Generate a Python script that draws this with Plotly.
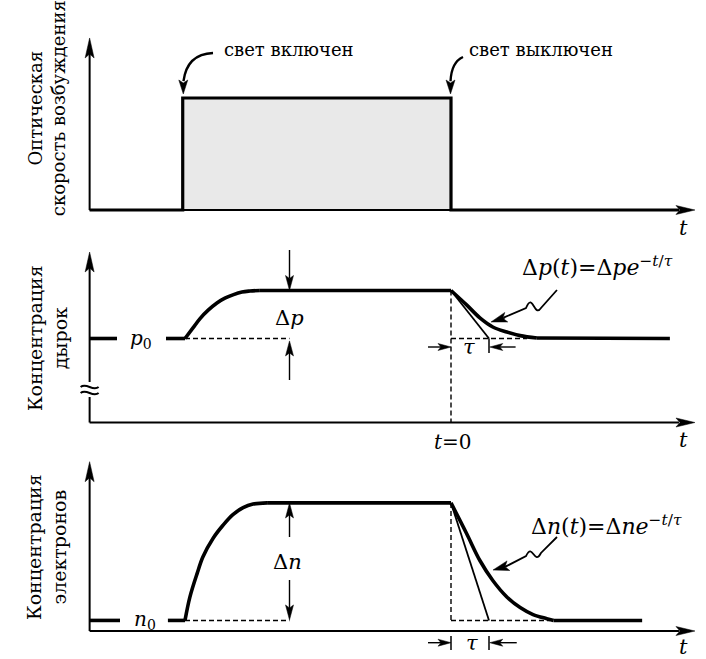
import math
import plotly.graph_objects as go

# ---------------- data (time in units of tau, t = 0 : light switched off) ----------------
T_AXIS_START = -9.51          # time at the vertical axes
T_AXIS_END = 6.42             # arrow tip of the time axes
T_LIGHT_ON, T_LIGHT_OFF = -7.06, 0.0
G_LEVELS = [0.0, 1.0]         # optical generation rate: off / on

# holes (axis broken, arbitrary units)
P0, P_SS = 1.75, 2.75
HOLE_RISE_T = [-7.0, -6.79, -6.61, -6.39, -6.16, -5.95, -5.74, -5.5, -5.29, -5.03]
HOLE_RISE_P = [1.75, 1.97, 2.16, 2.34, 2.49, 2.59, 2.66, 2.72, 2.74, 2.75]
HOLE_DECAY_T = [0.0, 0.41, 0.76, 1.1, 1.47, 1.82, 2.26]
HOLE_DECAY_P = [2.75, 2.45, 2.18, 1.99, 1.885, 1.81, 1.76]
HOLE_END_T = 5.76

# electrons
N0, N_SS = 0.09, 1.09
ELEC_RISE_T = [-7.0, -6.87, -6.68, -6.53, -6.26, -6.0, -5.74, -5.47, -5.21, -4.84]
ELEC_RISE_N = [0.09, 0.29, 0.49, 0.63, 0.79, 0.90, 0.99, 1.05, 1.08, 1.09]
ELEC_DECAY_T = [0.0, 0.41, 0.76, 1.1, 1.47, 1.82, 2.16, 2.52, 2.7]
ELEC_DECAY_N = [1.09, 0.83, 0.60, 0.43, 0.29, 0.20, 0.14, 0.105, 0.09]
ELEC_END_T = 5.03

TAU = 1.0                     # tangent intercept
T_DELTA_MARK = -4.25          # where Δp / Δn are indicated

# ---------------- layout geometry ----------------
W, H = 706, 659
PX0, PPX = 451.0, 38.0        # pixel of t=0, pixels per tau
X_RANGE = [(0 - PX0) / PPX, (W - PX0) / PPX]
PANELS = [
    dict(top=0, bottom=235, zero=210.0, ppu=112.0),
    dict(top=235, bottom=447, zero=422.5, ppu=48.0),
    dict(top=447, bottom=H, zero=631.0, ppu=117.5),
]
YREF = ["y", "y2", "y3"]
FONT = "DejaVu Serif"
BLACK = "black"

shapes, annotations = [], []


def line(k, x0, y0, x1, y1, width=2.0, dash=None):
    d = dict(color=BLACK, width=width)
    if dash:
        d["dash"] = dash
    shapes.append(dict(type="line", xref="x", yref=YREF[k], x0=x0, y0=y0, x1=x1, y1=y1,
                       line=d, layer="above"))


def head(k, tx, ty, ux, uy, L=12.0, Wd=3.5, notch=3.0):
    n = math.hypot(ux, uy)
    ux, uy = ux / n, uy / n
    qx, qy = -uy, ux
    ppu = PANELS[k]["ppu"]

    def pt(a, b):
        return tx + (a * ux + b * qx) / PPX, ty + (a * uy + b * qy) / ppu

    pts = [pt(0, 0), pt(-L, Wd), pt(-L + notch, 0), pt(-L, -Wd)]
    path = "M" + " L".join(f"{x:.5f},{y:.5f}" for x, y in pts) + " Z"
    shapes.append(dict(type="path", path=path, xref="x", yref=YREF[k], fillcolor=BLACK,
                       line=dict(color=BLACK, width=0.5), layer="above"))


def arrow(k, x0, y0, x1, y1, width=1.4, L=13.0, Wd=3.8, notch=3.0):
    ppu = PANELS[k]["ppu"]
    dx, dy = (x1 - x0) * PPX, (y1 - y0) * ppu
    n = math.hypot(dx, dy)
    sx = x1 - (L - notch) * dx / n / PPX
    sy = y1 - (L - notch) * dy / n / ppu
    line(k, x0, y0, sx, sy, width)
    head(k, x1, y1, dx, dy, L, Wd, notch)


def path(k, d, width=2.0):
    shapes.append(dict(type="path", path=d, xref="x", yref=YREF[k],
                       line=dict(color=BLACK, width=width), layer="above"))


def text(k, x, y, s, size=18, angle=0, xanchor="center"):
    annotations.append(dict(xref="x", yref=YREF[k], x=x, y=y, text=s, showarrow=False,
                            textangle=angle, xanchor=xanchor, yanchor="middle",
                            font=dict(family=FONT, size=size, color=BLACK)))


fig = go.Figure()

# ---------------- panel 1 : generation pulse ----------------
fig.add_trace(go.Scatter(x=[T_LIGHT_ON, T_LIGHT_ON, T_LIGHT_OFF, T_LIGHT_OFF],
                         y=[G_LEVELS[0], G_LEVELS[1], G_LEVELS[1], G_LEVELS[0]],
                         fill="toself", fillcolor="#e9e9e9", line=dict(width=0),
                         mode="lines", yaxis="y", hoverinfo="skip"))
fig.add_trace(go.Scatter(x=[T_AXIS_START, T_LIGHT_ON, T_LIGHT_ON, T_LIGHT_OFF, T_LIGHT_OFF, 6.0],
                         y=[G_LEVELS[0], G_LEVELS[0], G_LEVELS[1], G_LEVELS[1], G_LEVELS[0], G_LEVELS[0]],
                         mode="lines", line=dict(color=BLACK, width=3.2), yaxis="y"))

# ---------------- panel 2 : holes ----------------
thick = dict(color=BLACK, width=3.6)
for xs, ys, shp in [
    ([T_AXIS_START, -8.79], [P0, P0], "linear"),
    ([-7.5, HOLE_RISE_T[0]], [P0, P0], "linear"),
    (HOLE_RISE_T, HOLE_RISE_P, "spline"),
    ([HOLE_RISE_T[-1], 0.0], [P_SS, P_SS], "linear"),
    (HOLE_DECAY_T, HOLE_DECAY_P, "spline"),
    ([HOLE_DECAY_T[-1], HOLE_END_T], [HOLE_DECAY_P[-1], P0], "linear"),
]:
    fig.add_trace(go.Scatter(x=xs, y=ys, mode="lines", line=dict(thick, shape=shp), yaxis="y2"))
fig.add_trace(go.Scatter(x=[0.0, TAU], y=[P_SS, P0], mode="lines",
                         line=dict(color=BLACK, width=1.8), yaxis="y2"))

# ---------------- panel 3 : electrons ----------------
for xs, ys, shp in [
    ([T_AXIS_START, -8.71], [N0, N0], "linear"),
    ([-7.45, ELEC_RISE_T[0]], [N0, N0], "linear"),
    (ELEC_RISE_T, ELEC_RISE_N, "spline"),
    ([ELEC_RISE_T[-1], 0.0], [N_SS, N_SS], "linear"),
    (ELEC_DECAY_T, ELEC_DECAY_N, "spline"),
    ([ELEC_DECAY_T[-1], ELEC_END_T], [N0, N0], "linear"),
]:
    fig.add_trace(go.Scatter(x=xs, y=ys, mode="lines", line=dict(thick, shape=shp), yaxis="y3"))
fig.add_trace(go.Scatter(x=[0.0, TAU], y=[N_SS, N0], mode="lines",
                         line=dict(color=BLACK, width=1.8), yaxis="y3"))

# ---------------- axes (drawn as arrows) ----------------
AX_W = 2.0
tips = [1.536, 3.552, 1.441]
for k in range(3):
    ppu = PANELS[k]["ppu"]
    line(k, T_AXIS_START, 0, T_AXIS_END - 16 / PPX, 0, AX_W)
    head(k, T_AXIS_END, 0, 1, 0, L=19, Wd=4.5, notch=4)
    if k == 1:
        line(k, T_AXIS_START, 0, T_AXIS_START, 0.531, AX_W)
        line(k, T_AXIS_START, 0.844, T_AXIS_START, tips[k] - 16 / ppu, AX_W)
    else:
        line(k, T_AXIS_START, 0, T_AXIS_START, tips[k] - 16 / ppu, AX_W)
    head(k, T_AXIS_START, tips[k], 0, 1, L=20, Wd=4.5, notch=4)

# axis break marks (panel 2)
for yb in (0.74, 0.615):
    a = 5.0 / PANELS[1]["ppu"]
    x0, x1 = T_AXIS_START - 9 / PPX, T_AXIS_START + 9 / PPX
    path(1, f"M{x0},{yb} C{x0 + 6 / PPX},{yb + a} {x1 - 6 / PPX},{yb - a} {x1},{yb}", 2.0)

# time labels
for k, yl in [(0, -0.161), (1, -0.365), (2, -0.135)]:
    text(k, 6.13, yl, "<i>t</i>", 21)

# ---------------- panel 1 annotations ----------------
text(0, -4.26, 1.43, "свет включен", 18)
text(0, 2.38, 1.43, "свет выключен", 18)
path(0, "M-6.263,1.402 Q-6.947,1.393 -7.04,1.15", 2.4)
head(0, -7.045, 1.036, 0, -1, L=14, Wd=4.5, notch=3)
path(0, "M0.316,1.366 Q0.013,1.321 -0.013,1.15", 2.4)
head(0, -0.013, 1.036, 0, -1, L=14, Wd=4.5, notch=3)
text(0, -10.63, 0.91, "Оптическая<br>скорость возбуждения", 18, angle=-90)

# ---------------- panel 2 annotations ----------------
text(1, -10.63, 1.76, "Концентрация<br>дырок", 19, angle=-90)
text(1, -8.16, 1.75, "<i>p</i><sub>0</sub>", 20)
DASH = "5px,3px"
line(1, HOLE_RISE_T[0], P0, T_DELTA_MARK, P0, 1.4, DASH)
line(1, 0.0, P_SS, 0.0, 0.0, 1.4, DASH)
line(1, 0.0, P0, 2.0, P0, 1.4, DASH)
arrow(1, T_DELTA_MARK, 3.594, T_DELTA_MARK, P_SS, L=15, Wd=4)
arrow(1, T_DELTA_MARK, 0.885, T_DELTA_MARK, 1.70, L=15, Wd=4)
text(1, T_DELTA_MARK, 2.18, "Δ<i>p</i>", 21)
text(1, 0.05, -0.406, "<i>t</i>=0", 20)
line(1, TAU, P0, TAU, 1.45, 1.5)
arrow(1, -0.605, 1.573, 0.0, 1.573, L=13, Wd=3.5)
arrow(1, 1.70, 1.573, 1.02, 1.573, L=13, Wd=3.5)
text(1, 0.47, 1.573, "<i>τ</i>", 21)
text(1, 3.86, 3.26, "Δ<i>p</i>(<i>t</i>)=Δ<i>pe</i><sup>−<i>t</i>/<i>τ</i></sup>", 22)
path(1, "M2.789,2.76 L2.368,2.385 C2.184,2.17 2.158,2.74 1.974,2.385 L1.40,2.19", 1.8)
arrow(1, 1.42, 2.185, 1.053, 2.094, width=1.8, L=16, Wd=5, notch=3.5)

# ---------------- panel 3 annotations ----------------
text(2, -10.63, 0.715, "Концентрация<br>электронов", 19, angle=-90)
text(2, -8.05, N0, "<i>n</i><sub>0</sub>", 20)
line(2, ELEC_RISE_T[0], N0, T_DELTA_MARK, N0, 1.4, DASH)
line(2, 0.0, N_SS, 0.0, N0, 1.4, DASH)
line(2, 0.0, N0, 2.6, N0, 1.4, DASH)
arrow(2, T_DELTA_MARK, 0.80, T_DELTA_MARK, N_SS, L=15, Wd=4)
arrow(2, T_DELTA_MARK, 0.434, T_DELTA_MARK, 0.094, L=15, Wd=4)
text(2, -4.3, 0.587, "Δ<i>n</i>", 21)
line(2, 0.0, -0.043, 0.0, -0.162, 1.5)
line(2, TAU, -0.043, TAU, -0.162, 1.5)
arrow(2, -0.605, -0.0996, 0.0, -0.0996, L=13, Wd=3.5)
arrow(2, 1.73, -0.0996, 1.02, -0.0996, L=13, Wd=3.5)
text(2, 0.55, -0.0996, "<i>τ</i>", 21)
text(2, 4.10, 0.902, "Δ<i>n</i>(<i>t</i>)=Δ<i>ne</i><sup>−<i>t</i>/<i>τ</i></sup>", 22)
path(2, "M2.789,0.80 L2.368,0.664 C2.184,0.55 2.158,0.76 1.974,0.638 L1.45,0.55", 1.8)
arrow(2, 1.47, 0.552, 1.105, 0.519, width=1.8, L=16, Wd=5, notch=3.5)

# ---------------- layout ----------------
layout = dict(
    width=W, height=H, margin=dict(l=0, r=0, t=0, b=0),
    paper_bgcolor="white", plot_bgcolor="white", showlegend=False, hovermode=False,
    xaxis=dict(range=X_RANGE, domain=[0, 1], visible=False, fixedrange=True),
    shapes=shapes, annotations=annotations,
)
for k, p in enumerate(PANELS):
    lo = (p["zero"] - p["bottom"]) / p["ppu"]
    hi = (p["zero"] - p["top"]) / p["ppu"]
    key = "yaxis" if k == 0 else f"yaxis{k + 1}"
    layout[key] = dict(range=[lo, hi], domain=[1 - p["bottom"] / H, 1 - p["top"] / H],
                       visible=False, fixedrange=True, anchor="x")
fig.update_layout(**layout)
fig.write_html("out.html", config={"displayModeBar": False},
               post_script="document.body.style.margin='0';document.body.style.overflow='hidden';")
